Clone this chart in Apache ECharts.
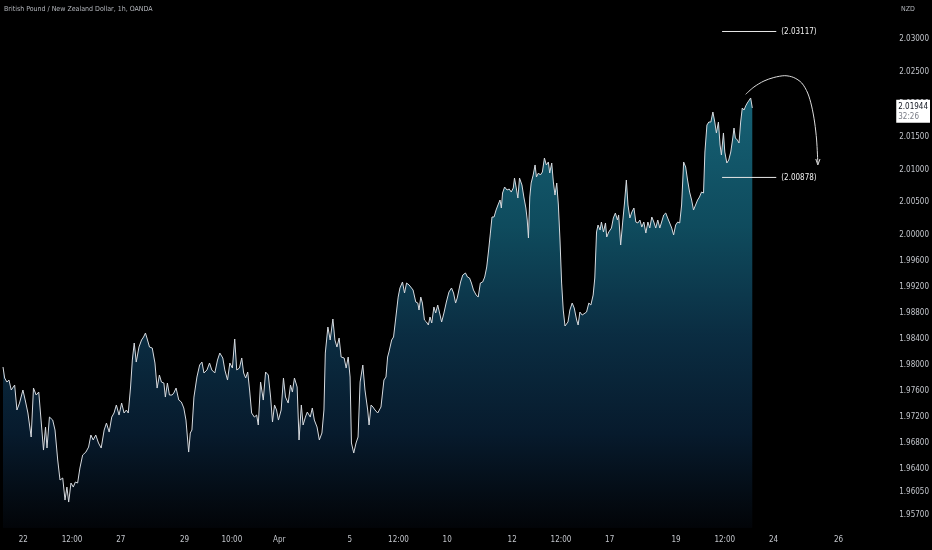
<!DOCTYPE html>
<html>
<head>
<meta charset="utf-8">
<script src="https://cdn.jsdelivr.net/npm/echarts@6/dist/echarts.min.js"></script>
<style>
html,body{margin:0;padding:0;background:#000;}
#chart{width:932px;height:550px;}
</style>
</head>
<body>
<div id="chart"></div>
<script>
// Hours since series start (trading hours, weekends removed)
var hours = [
0,1.2,2.9,4.4,6.1,8.6,10.3,12.2,14.7,16.7,
18.4,20.8,22.5,24.5,26.4,28.1,29.9,31.4,32.5,34.3,
36.7,38.4,40.4,42.1,44.1,45.8,47.2,48.5,50.2,51.9,
53.4,55.1,56.8,58.8,61.2,63.2,64.9,66.6,68.5,70.5,
72.5,74.7,76.4,78.4,80.3,82.0,83.7,85.7,87.6,89.4,
91.1,92.5,94.2,95.5,96.9,98.4,100.4,102.3,103.8,105.2,
106.7,108.2,110.2,112.2,113.8,115.5,117.0,118.8,119.9,121.4,
122.9,124.9,126.1,127.8,129.8,131.7,133.5,135.1,137.1,138.3,139.5,
141.0,143.2,145.2,146.9,148.4,150.6,152.5,154.2,156.4,158.4,
160.1,162.3,163.8,165.8,167.5,169.4,171.1,172.6,174.6,176.3,
177.7,179.2,180.7,182.1,183.6,185.6,187.3,188.5,190.2,192.2,
193.9,195.9,197.6,199.0,200.5,202.0,203.4,205.4,207.1,208.6,
210.6,212.3,213.7,215.2,217.2,218.6,220.3,221.6,223.3,224.7,
226.9,228.4,229.9,231.9,233.6,235.5,237.0,238.0,239.9,241.6,
243.6,245.1,246.6,248.2,249.7,251.9,253.4,254.9,256.3,257.3,
259.0,260.7,262.2,263.7,265.7,267.3,269.3,270.3,271.8,273.2,
274.7,276.7,279.1,281.3,282.8,284.0,285.0,287.0,288.4,290.1,
291.8,293.1,295.0,296.5,298.0,299.9,301.3,302.8,304.8,306.3,
307.2,308.5,309.7,311.2,312.7,314.1,315.3,316.6,318.2,319.5,
321.0,322.4,323.9,325.6,327.4,329.3,331.2,332.7,334.2,335.4,
336.6,337.9,339.5,341.5,343.0,344.5,345.9,347.4,349.4,350.9,
352.5,354.2,355.7,357.2,358.6,359.9,361.1,362.6,364.1,365.5,
367.0,368.0,368.9,370.4,372.2,373.8,375.3,376.8,377.7,379.0,
380.2,381.4,383.2,384.6,386.1,387.1,388.0,389.0,390.0,391.5,
392.9,393.9,395.4,396.8,398.3,399.8,401.2,402.7,403.7,405.2,
406.4,407.6,408.9,410.1,411.3,412.5,413.7,415.0,417.2,418.6,
420.3,421.8,423.6,424.7,426.0,427.7,429.1,430.9,432.6,434.1,
435.8,437.0,438.3,439.4,440.9,441.9,443.4,444.9,445.8,447.3,
449.3,450.7,452.2,453.7,454.6,456.1,457.6,459.0,460.3,461.5,
462.9,464.4,465.9,467.3,468.8,470.3,471.7,473.2,474.7,476.2,
477.6,479.1,480.6,482.0,483.5,485.0,486.4,487.9,489.4,490.8,
492.3,493.8,495.2,496.7,498.2,499.7,501.1,502.6,504.1,505.5,
507.0,508.5,509.9,511.4,512.9,514.3,515.8,517.3,518.3,519.8,
521.2,522.7,524.2,525.6,526.8,528.3,529.5,530.5,532.0,533.0,
534.5,535.9,537.4,538.9,539.8,540.8,542.3,543.5,544.7,545.9,
547.2,548.4,549.6,550.8,552.1,553.3
];
// GBP/NZD closing prices
var prices = [
1.97970,1.97801,1.97739,1.97770,1.97617,1.97693,1.97310,1.97417,1.97617,1.97433,
1.97264,1.96896,1.97647,1.97540,1.97586,1.97156,1.96696,1.97049,1.96727,1.97202,
1.97156,1.97003,1.96543,1.96236,1.96267,1.95929,1.96128,1.95898,1.96190,1.96128,
1.96205,1.96190,1.96420,1.96619,1.96665,1.96742,1.96926,1.96850,1.96926,1.96804,
1.96727,1.97003,1.97110,1.96972,1.97202,1.97264,1.97387,1.97233,1.97417,1.97264,
1.97310,1.97264,1.97663,1.98077,1.98338,1.98046,1.98276,1.98384,1.98430,1.98491,
1.98384,1.98276,1.98261,1.98031,1.97647,1.97847,1.97739,1.97724,1.97509,1.97724,
1.97540,1.97540,1.97571,1.97647,1.97463,1.97433,1.97341,1.97156,1.96665,1.96957,1.97003,
1.97509,1.97816,1.98000,1.98046,1.97878,1.97924,1.98031,1.97924,1.97878,1.98077,
1.98184,1.98108,1.97924,1.97770,1.98031,1.97954,1.98399,1.97924,1.97954,1.98108,
1.97878,1.97801,1.97893,1.97617,1.97264,1.97202,1.97233,1.97080,1.97739,1.97463,
1.97893,1.97847,1.97509,1.97126,1.97387,1.97310,1.97156,1.97310,1.97801,1.97509,
1.97417,1.97693,1.97586,1.97801,1.97663,1.96850,1.97387,1.97080,1.97202,1.97279,
1.97202,1.97341,1.97156,1.97049,1.96850,1.96957,1.97310,1.98184,1.98583,1.98384,
1.98706,1.98384,1.98276,1.98414,1.98123,1.98108,1.97954,1.98123,1.97816,1.96804,
1.96650,1.96804,1.96896,1.97739,1.98000,1.97617,1.97310,1.97080,1.97387,1.97356,
1.97310,1.97264,1.97356,1.97770,1.97816,1.98123,1.98200,1.98384,1.98430,1.98737,
1.99043,1.99182,1.99274,1.99105,1.99258,1.99228,1.99258,1.99151,1.98967,1.98951,
1.98844,1.99043,1.98951,1.98691,1.98660,1.98614,1.98737,1.98645,1.98890,1.98798,
1.98921,1.98798,1.98660,1.98798,1.98967,1.99120,1.99182,1.99105,1.98951,1.99028,
1.99043,1.99274,1.99381,1.99412,1.99350,1.99335,1.99258,1.99151,1.99074,1.99043,
1.99258,1.99274,1.99350,1.99504,1.99765,2.00025,2.00271,2.00271,2.00378,2.00455,
2.00532,2.00409,2.00639,2.00731,2.00685,2.00700,2.00654,2.00716,2.00869,2.00716,
2.00562,2.00869,2.00762,2.00578,2.00409,2.00225,1.99949,2.00578,2.00792,2.00915,
2.01069,2.00885,2.00946,2.00915,2.00961,2.01176,2.01069,2.01115,2.00946,2.01099,
2.00808,2.00608,2.00792,2.00455,1.99918,1.99258,1.98844,1.98599,1.98660,1.98844,
1.98951,1.98875,1.98691,1.98614,1.98813,1.98767,1.98737,1.98813,1.98951,1.98921,
1.99074,1.99335,2.00041,2.00148,2.00071,2.00194,2.00041,2.00179,1.99964,2.00041,
2.00102,2.00256,2.00332,2.00225,2.00302,1.99841,2.00194,2.00501,2.00838,2.00455,
2.00256,2.00348,2.00409,2.00194,2.00179,2.00225,2.00117,2.00194,2.00025,2.00194,
2.00102,2.00271,2.00194,2.00102,2.00225,2.00102,2.00117,2.00302,2.00332,2.00256,
2.00179,2.00102,1.99995,2.00148,2.00194,2.00179,2.00455,2.01115,2.01038,2.00838,
2.00654,2.00532,2.00378,2.00455,2.00532,2.00578,2.00654,2.00639,2.01268,2.01682,
2.01728,2.01728,2.01882,2.01728,2.01560,2.01728,2.01375,2.01222,2.01560,2.01268,
2.01099,2.01145,2.01268,2.01483,2.01636,2.01483,2.01452,2.01406,2.01728,2.01943,
2.01912,2.01974,2.02020,2.02035,2.02097,2.01944
];

// X-axis tick labels (hour position -> text)
var xTickHours  = [15, 51, 87, 134, 169, 204, 256, 292, 328, 376, 412, 448, 497, 533, 569, 617];
var xTickLabels = ['22','12:00','27','29','10:00','Apr','5','12:00','10','12','12:00','17','19','12:00','24','26'];

// Y-axis price tick labels
var yTickValues = [2.03, 2.025, 2.02, 2.015, 2.01, 2.005, 2.00, 1.996, 1.992, 1.988, 1.984, 1.98, 1.976, 1.972, 1.968, 1.964, 1.9605, 1.957];

// Annotations
var targetHigh = 2.03117;
var targetLow = 2.00878;
var targetHours = [531, 571];
var arcHours  = [548.4, 554.5, 561.9, 569.2, 577.3, 583.9, 589.8, 594.2, 597.1, 599.3, 600.8, 601.7];
var arcPrices = [2.02153, 2.02265, 2.02357, 2.02411, 2.02439, 2.02411, 2.02327, 2.02173, 2.01974, 2.01728, 2.01452, 2.01099];
var arrowHours  = [600.2, 601.7, 603.3];
var arrowPrices = [2.01161, 2.01069, 2.01161];
var lastPrice = 2.01944;
var countdown = '32:26';

var FONT = "'Liberation Sans Narrow', 'DejaVu Sans Condensed', 'Roboto', sans-serif";

var priceData = hours.map(function (h, i) { return [h, prices[i]]; });
var arcData = arcHours.map(function (h, i) { return [h, arcPrices[i]]; });
var arrowData = arrowHours.map(function (h, i) { return [h, arrowPrices[i]]; });

var xMap = {};
xTickHours.forEach(function (h, i) { xMap[h] = xTickLabels[i]; });
var yMap = {};
yTickValues.forEach(function (v) { yMap[Math.round(v * 20000)] = v.toFixed(5); });

var chart = echarts.init(document.getElementById('chart'));
chart.setOption({
  backgroundColor: '#000000',
  animation: false,
  title: [
    { text: 'British Pound / New Zealand Dollar, 1h, OANDA', left: 4, top: 6, padding: 0,
      textStyle: { color: '#b4b7bd', fontSize: 7, fontWeight: 'normal', fontFamily: FONT } },
    { text: 'NZD', left: 901, top: 6, padding: 0,
      textStyle: { color: '#b4b7bd', fontSize: 7, fontWeight: 'normal', fontFamily: FONT } }
  ],
  grid: { left: 0, right: 47, top: 0, bottom: 22, containLabel: false },
  xAxis: {
    type: 'value', min: 0, max: 650, interval: 1,
    axisLine: { show: false }, axisTick: { show: false }, splitLine: { show: false },
    axisLabel: {
      color: '#c3c6cc', fontSize: 8, fontFamily: FONT, margin: 8,
      formatter: function (v) { var k = Math.round(v); return xMap[k] !== undefined ? xMap[k] : ''; }
    }
  },
  yAxis: {
    type: 'value', position: 'right', min: 1.955, max: 2.036, interval: 0.0005,
    axisLine: { show: false }, axisTick: { show: false }, splitLine: { show: false },
    axisLabel: {
      color: '#c3c6cc', fontSize: 8, fontFamily: FONT, margin: 16, align: 'left',
      showMinLabel: true, showMaxLabel: true,
      formatter: function (v) { var k = Math.round(v * 20000); return yMap[k] !== undefined ? yMap[k] : ''; }
    }
  },
  series: [
    {
      type: 'line', data: priceData, symbol: 'none', z: 3, clip: false,
      lineStyle: { color: '#d6dadf', width: 1 },
      areaStyle: {
        color: new echarts.graphic.LinearGradient(0, 0, 0, 1, [
          { offset: 0, color: '#1f8aa6' },
          { offset: 0.3, color: '#156b85' },
          { offset: 0.55, color: '#0f405e' },
          { offset: 0.78, color: '#0a2640' },
          { offset: 1, color: '#03060b' }
        ])
      }
    },
    {
      type: 'line', data: [], symbol: 'none', silent: true, z: 10,
      markLine: {
        silent: true, symbol: ['none', 'none'],
        lineStyle: { color: 'rgba(0,0,0,0)', width: 1, type: 'solid' },
        data: [{ yAxis: lastPrice }],
        label: {
          show: true, position: 'end', distance: 13, offset: [0, 7],
          backgroundColor: '#ffffff', padding: [2, 2, 1, 2],
          formatter: '{a|' + lastPrice.toFixed(5) + '}\n{b|' + countdown + '}',
          rich: {
            a: { color: '#131722', fontSize: 8, lineHeight: 10, fontFamily: FONT },
            b: { color: '#7a7d86', fontSize: 8, lineHeight: 10, fontFamily: FONT }
          }
        }
      }
    },
    {
      type: 'line', data: [[targetHours[0], targetHigh], [targetHours[1], targetHigh]],
      symbol: 'none', silent: true, z: 4,
      lineStyle: { color: '#e8e8e8', width: 1 },
      endLabel: { show: true, distance: 5, formatter: '(' + targetHigh.toFixed(5) + ')',
        color: '#f0f0f0', fontSize: 8, fontFamily: FONT }
    },
    {
      type: 'line', data: [[targetHours[0], targetLow], [targetHours[1], targetLow]],
      symbol: 'none', silent: true, z: 4,
      lineStyle: { color: '#e8e8e8', width: 1 },
      endLabel: { show: true, distance: 5, formatter: '(' + targetLow.toFixed(5) + ')',
        color: '#f0f0f0', fontSize: 8, fontFamily: FONT }
    },
    {
      type: 'line', data: arcData, smooth: 0.3, symbol: 'none', silent: true, z: 4,
      lineStyle: { color: '#dcdcdc', width: 1 }
    },
    {
      type: 'line', data: arrowData, symbol: 'none', silent: true, z: 4,
      lineStyle: { color: '#dcdcdc', width: 1 }
    }
  ]
});
</script>
</body>
</html>
